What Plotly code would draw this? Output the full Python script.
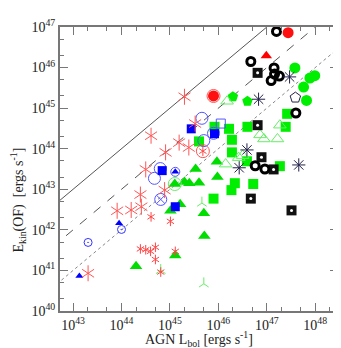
import numpy as np
import plotly.graph_objs as go

# log10 values (x = AGN Lbol, y = Ekin(OF))
red_ast_L = [45.30, 44.61, 45.19, 45.39, 44.91, 44.50, 45.52, 44.89, 44.39, 44.41, 44.20, 43.91, 43.31]
red_ast_E = [45.28, 44.32, 44.15, 44.03, 43.91, 43.49, 44.62, 42.98, 42.87, 42.57, 42.49, 42.47, 40.93]
red_ast_small_L = [44.61, 45.01, 44.39, 44.50, 44.60, 44.70, 44.70, 45.11, 44.81, 45.68]
red_ast_small_E = [42.32, 42.21, 41.53, 41.51, 41.47, 41.57, 41.27, 41.47, 40.96, 43.94]
red_circ_L = [47.44, 45.90]
red_circ_E = [46.86, 45.30]
red_ring_L = [45.90, 45.68]
red_ring_E = [45.30, 43.94]
red_tri_L = [46.99]
red_tri_E = [46.29]

blue_circ_L = [45.66, 45.70, 45.90, 44.80, 44.68]
blue_circ_E = [44.75, 44.20, 44.38, 43.51, 43.27]
blue_sq_L = [45.44, 45.92, 44.84, 45.11]
blue_sq_E = [44.49, 44.37, 43.46, 42.57]
blue_opensq_L = [46.05]
blue_opensq_E = [44.62]
blue_cx_L = [44.81]
blue_cx_E = [42.75]
blue_cdot_L = [44.00, 43.31]
blue_cdot_E = [42.01, 41.69]
blue_tri_L = [43.95, 43.13, 45.11]
blue_tri_E = [42.16, 40.86, 43.43]
blue_ring_L = [45.11]
blue_ring_E = [43.43]

green_tri_L = [45.30, 45.40, 45.60, 45.53, 45.21, 45.01, 45.11, 44.30, 45.70, 45.71, 45.97, 45.98, 45.10]
green_tri_E = [43.18, 43.15, 43.16, 43.50, 42.63, 42.47, 41.37, 41.10, 42.41, 41.85, 43.68, 43.30, 43.13]
green_opentri_L = [46.18, 46.15, 46.42, 46.50, 46.86, 46.94, 47.22, 47.27]
green_opentri_E = [45.17, 43.62, 43.78, 43.83, 44.34, 44.24, 44.24, 44.58]
green_ring_L = [45.10]
green_ring_E = [43.13]
green_y_L = [44.81, 45.66, 45.70]
green_y_E = [41.00, 42.66, 40.67]
green_sq_L = [45.92, 46.22, 45.60, 46.60, 46.28, 46.28, 47.39, 47.42, 46.59, 47.27, 46.34, 46.27, 46.72, 45.90]
green_sq_E = [44.54, 44.49, 44.18, 44.54, 44.22, 43.91, 44.54, 44.86, 43.69, 43.57, 43.15, 42.98, 43.13, 42.77]
green_pent_L = [46.30, 46.60]
green_pent_E = [45.28, 45.17]
green_circ_L = [47.58, 47.99, 47.89, 47.76, 47.82]
green_circ_E = [45.99, 45.80, 45.74, 45.52, 45.19]

black_ring_L = [47.20, 46.67, 47.15, 47.16, 47.26, 47.09, 47.60, 46.76, 46.96]
black_ring_E = [46.89, 46.15, 45.99, 45.84, 45.79, 45.68, 44.88, 43.58, 43.50]
black_sq_L = [46.81, 46.81, 46.89, 47.14, 46.67, 47.51]
black_sq_E = [45.87, 44.58, 43.79, 43.49, 42.77, 42.48]
black_ast_L = [46.83, 47.47, 46.59, 46.43, 47.66]
black_ast_E = [45.22, 45.77, 43.97, 43.53, 43.60]
black_pent_L = [47.59]
black_pent_E = [45.26]

# Ekin = f * Lbol reference lines
line_L = [42.0, 49.0]
line_frac = [1.0, 0.1, 0.01]
line_dash = ['solid', 'dash', 'dot']
line_col = ['#555555', '#555555', '#888888']

xticks = [43, 44, 45, 46, 47, 48]
yticks = [40, 41, 42, 43, 44, 45, 46, 47]

FONT = 'Liberation Serif'

fig = go.Figure()

for f, d, c in zip(line_frac, line_dash, line_col):
    fig.add_trace(go.Scatter(x=10.0 ** np.array(line_L), y=f * 10.0 ** np.array(line_L),
                             mode='lines', line=dict(color=c, width=1, dash=d)))


def pts(L, E, symbol, size, color, lw=1, lc=None):
    fig.add_trace(go.Scatter(
        x=10.0 ** np.array(L), y=10.0 ** np.array(E), mode='markers', cliponaxis=False,
        marker=dict(symbol=symbol, size=size, color=color,
                    line=dict(width=lw, color=lc if lc else color))))


# green
pts(green_sq_L, green_sq_E, 'square', 10, '#00ee00', 0)
pts(green_circ_L, green_circ_E, 'circle', 11, '#00ee00', 0)
pts(green_pent_L, green_pent_E, 'pentagon', 11, '#00ee00', 0)
pts(green_tri_L, green_tri_E, 'triangle-up', 11, '#00dd00', 0)
pts(green_opentri_L, green_opentri_E, 'triangle-up-open', 11, '#66ee66', 1)
pts(green_ring_L, green_ring_E, 'circle-open', 13, '#66ee66', 1)
pts(green_y_L, green_y_E, 'y-up-open', 8, '#66ee66', 1)

# blue
pts(blue_circ_L, blue_circ_E, 'circle-open', 12, '#5555ff', 1)
pts(blue_sq_L, blue_sq_E, 'square', 9, '#0000ff', 0)
pts(blue_opensq_L, blue_opensq_E, 'square-open', 9, '#5555ff', 1)
pts(blue_cx_L, blue_cx_E, 'circle-x-open', 12, '#5555ff', 1)
pts(blue_cdot_L, blue_cdot_E, 'circle-open-dot', 8, '#3333ff', 1)
pts(blue_tri_L, blue_tri_E, 'triangle-up', 7, '#0000ff', 0)
pts(blue_ring_L, blue_ring_E, 'circle-open', 9, '#5555ff', 1)

# red
pts(red_ast_L, red_ast_E, 'y-up-open', 10, '#ff5555', 1)
pts(red_ast_L, red_ast_E, 'y-down-open', 10, '#ff5555', 1)
pts(red_ast_small_L, red_ast_small_E, 'y-up-open', 6, '#ff4444', 1)
pts(red_ast_small_L, red_ast_small_E, 'y-down-open', 6, '#ff4444', 1)
pts(red_circ_L, red_circ_E, 'circle', 11, '#ff1010', 0)
pts(red_ring_L, red_ring_E, 'circle-open', 13, '#ff5555', 1)
pts(red_tri_L, red_tri_E, 'triangle-up', 10, '#ff0000', 0)

# black
pts(black_sq_L, black_sq_E, 'square', 10, '#111111', 0)
pts(black_sq_L, black_sq_E, 'circle', 3, 'white', 0)
pts(black_ring_L, black_ring_E, 'circle-open', 8, '#000000', 3)
pts(black_ast_L, black_ast_E, 'asterisk-open', 11, '#22224a', 1)
pts(black_pent_L, black_pent_E, 'pentagon-open', 11, '#22224a', 1)

axis_common = dict(type='log', showline=True, linecolor='#777777', linewidth=2, mirror='ticks',
                   ticks='inside', ticklen=8, tickcolor='#777777', showgrid=False, zeroline=False,
                   tickfont=dict(family=FONT, size=14, color='#222222'),
                   minor=dict(ticks='inside', ticklen=4, tickcolor='#777777', showgrid=False))

fig.update_xaxes(range=[42.73, 48.47], tickvals=[10.0 ** t for t in xticks],
                 ticktext=['10<sup>%d</sup>' % t for t in xticks], **axis_common)
fig.update_yaxes(range=[40, 47], tickvals=[10.0 ** t for t in yticks],
                 ticktext=['10<sup>%d</sup>' % t for t in yticks], **axis_common)

fig.add_annotation(text='AGN L<sub>bol</sub> [ergs s<sup>-1</sup>]', xref='paper', yref='paper',
                   x=0.5, y=-0.097, showarrow=False, yanchor='middle',
                   font=dict(family=FONT, size=14, color='#222222'))
fig.add_annotation(text='E<sub>kin</sub>(OF)  [ergs s<sup>-1</sup>]', xref='paper', yref='paper',
                   x=-0.15, y=0.39, showarrow=False, textangle=-90, xanchor='center',
                   font=dict(family=FONT, size=14, color='#222222'))

fig.update_layout(width=341, height=348, showlegend=False,
                  margin=dict(l=52, r=9, t=11, b=45),
                  plot_bgcolor='white', paper_bgcolor='white')

fig.write_html("out.html")
